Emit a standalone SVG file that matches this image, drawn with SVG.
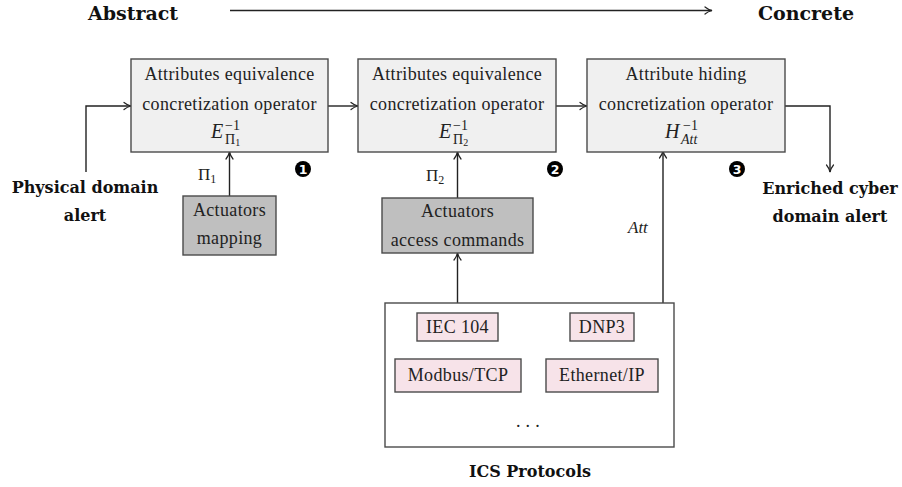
<svg xmlns="http://www.w3.org/2000/svg" width="902" height="487" viewBox="0 0 902 487">
<defs>
<marker id="arr" viewBox="0 0 10 10" refX="9" refY="5" markerWidth="10" markerHeight="10" markerUnits="userSpaceOnUse" orient="auto">
<path d="M2,1.5 Q5,4 9,5 Q5,6 2,8.5" fill="none" stroke="#222" stroke-width="1.2" stroke-linecap="round"/>
</marker>
<style>
.op{fill:#f0f0f0;stroke:#4a4a4a;stroke-width:1.4}
.gr{fill:#bfbfbf;stroke:#4a4a4a;stroke-width:1.4}
.pk{fill:#f7e3e9;stroke:#4a4a4a;stroke-width:1.4}
.wh{fill:#ffffff;stroke:#4a4a4a;stroke-width:1.4}
.t{font-family:"Liberation Serif","Times New Roman",serif;font-size:18px;fill:#222;text-anchor:middle;letter-spacing:0.35px}
.b{font-family:"DejaVu Serif",serif;font-weight:bold;font-size:16px;fill:#111;text-anchor:middle}
.h{font-family:"DejaVu Serif",serif;font-weight:bold;font-size:19px;fill:#111;text-anchor:middle}
.m{font-family:"Liberation Serif","Times New Roman",serif;fill:#222}
.i{font-style:italic}
.c{fill:none;stroke:#222;stroke-width:1.4}
.bd{fill:#000}
.bn{font-family:"DejaVu Sans",sans-serif;font-weight:bold;font-size:12.5px;fill:#fff;text-anchor:middle}
</style>
</defs>

<g id="header">
<text class="h" x="133" y="20">Abstract</text>
<text class="h" x="806" y="20">Concrete</text>
</g>

<g id="connectors">
<path class="c" d="M230,10.5 H712" marker-end="url(#arr)"/>
<path class="c" d="M86,172 V106 H131" marker-end="url(#arr)"/>
<path class="c" d="M328,106 H358" marker-end="url(#arr)"/>
<path class="c" d="M556,106 H587" marker-end="url(#arr)"/>
<path class="c" d="M785,106 H830 V172" marker-end="url(#arr)"/>
<path class="c" d="M229.5,196 V152" marker-end="url(#arr)"/>
<path class="c" d="M457.5,198 V152" marker-end="url(#arr)"/>
<path class="c" d="M457.5,303 V253" marker-end="url(#arr)"/>
<path class="c" d="M663,303 V151" marker-end="url(#arr)"/>
</g>

<g id="physical-alert">
<text class="b" x="85" y="193">Physical domain</text>
<text class="b" x="85" y="221">alert</text>
</g>

<g id="op1">
<rect class="op" x="131" y="59" width="197" height="93"/>
<text class="t" x="229.5" y="80">Attributes equivalence</text>
<text class="t" x="229.5" y="110">concretization operator</text>
<text class="m i" x="211" y="138" font-size="20">E</text>
<text class="m" x="225" y="130" font-size="14">−1</text>
<text class="m" x="225" y="144" font-size="14">Π<tspan font-size="10" dy="2">1</tspan></text>
</g>

<g id="op2">
<rect class="op" x="358" y="59" width="198" height="93"/>
<text class="t" x="457" y="80">Attributes equivalence</text>
<text class="t" x="457" y="110">concretization operator</text>
<text class="m i" x="439" y="138" font-size="20">E</text>
<text class="m" x="453" y="130" font-size="14">−1</text>
<text class="m" x="453" y="144" font-size="14">Π<tspan font-size="10" dy="2">2</tspan></text>
</g>

<g id="op3">
<rect class="op" x="587" y="59" width="198" height="93"/>
<text class="t" x="686" y="80">Attribute hiding</text>
<text class="t" x="686" y="110">concretization operator</text>
<text class="m i" x="665" y="138" font-size="20">H</text>
<text class="m" x="683" y="130" font-size="14">−1</text>
<text class="m i" x="681" y="144" font-size="14">Att</text>
</g>

<g id="badges">
<circle class="bd" cx="303" cy="169" r="8"/><text class="bn" x="303" y="173.5">1</text>
<circle class="bd" cx="555" cy="169" r="8"/><text class="bn" x="555" y="173.5">2</text>
<circle class="bd" cx="737" cy="169" r="8"/><text class="bn" x="737" y="173.5">3</text>
</g>

<g id="labels">
<text class="m" x="198" y="180" font-size="17">Π<tspan font-size="12" dy="3">1</tspan></text>
<text class="m" x="426" y="181" font-size="17">Π<tspan font-size="12" dy="3">2</tspan></text>
<text class="m i" x="628" y="233" font-size="17">Att</text>
</g>

<g id="mapping">
<rect class="gr" x="183" y="196" width="93" height="59"/>
<text class="t" x="229.5" y="216">Actuators</text>
<text class="t" x="229.5" y="244">mapping</text>
</g>

<g id="access">
<rect class="gr" x="382" y="198" width="151" height="55"/>
<text class="t" x="457.5" y="217">Actuators</text>
<text class="t" x="457.5" y="246">access commands</text>
</g>

<g id="ics">
<rect class="wh" x="385" y="303" width="289" height="144"/>
<rect class="pk" x="417" y="313" width="81" height="28"/>
<text class="t" x="457.5" y="333">IEC 104</text>
<rect class="pk" x="570" y="313" width="64" height="28"/>
<text class="t" x="602" y="333">DNP3</text>
<rect class="pk" x="395" y="359" width="126" height="33"/>
<text class="t" x="458" y="381">Modbus/TCP</text>
<rect class="pk" x="546" y="359" width="112" height="33"/>
<text class="t" x="602" y="381">Ethernet/IP</text>
<text class="t" x="528" y="427">. . .</text>
<text class="b" x="530" y="477">ICS Protocols</text>
</g>

<g id="enriched-alert">
<text class="b" x="830" y="194">Enriched cyber</text>
<text class="b" x="830" y="222">domain alert</text>
</g>
</svg>
